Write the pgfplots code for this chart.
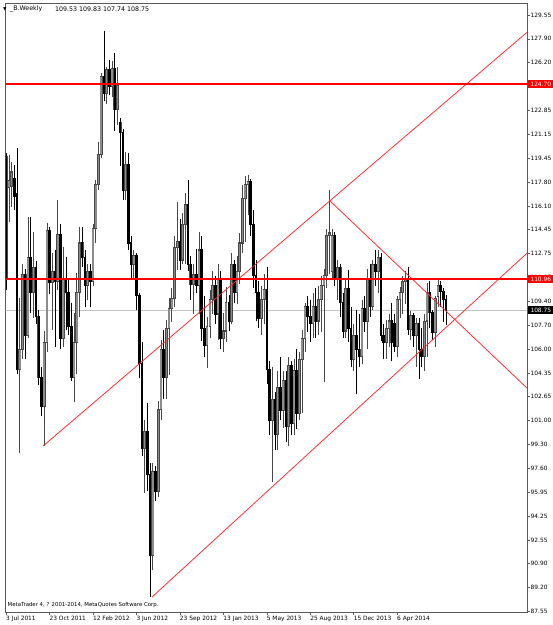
\documentclass[border=0pt]{standalone}
\usepackage{pgfplots}
\pgfplotsset{compat=1.18}
\usepackage{pgfplotstable}
\usepackage{fontspec}
\setmainfont{DejaVu Sans}
\definecolor{wickc}{RGB}{72,72,72}
\definecolor{bullc}{RGB}{140,140,140}
\definecolor{mtred}{RGB}{255,0,0}
\definecolor{bidgray}{RGB}{195,195,195}
\definecolor{framec}{RGB}{90,90,90}
\newcommand{\tf}{\fontsize{5.9}{6.5}\selectfont}

\pgfplotstableread{
i o h l c
0 119.6 119.8 110.2 111.0
1 117.4 119.7 115.0 117.9
2 117.5 119.2 116.0 118.5
3 118.0 119.0 115.8 116.8
4 117.0 120.2 104.3 104.6
5 104.6 109.6 98.7 106.0
6 106.0 112.0 105.3 111.3
7 111.3 111.7 105.3 107.0
8 107.0 115.3 106.8 112.5
9 112.5 115.3 108.6 110.0
10 110.0 114.3 108.2 111.8
11 111.8 112.2 107.8 108.3
12 108.3 108.8 103.5 104.0
13 104.0 104.8 101.3 102.0
14 102.0 107.3 99.2 106.5
15 106.5 114.9 105.8 114.4
16 114.4 114.6 109.9 110.7
17 110.7 112.8 107.4 111.5
18 111.5 113.0 106.2 110.8
19 110.8 116.5 110.2 114.1
20 114.1 114.8 106.0 106.8
21 106.8 113.2 106.2 111.0
22 111.0 112.5 107.4 110.0
23 110.0 111.0 107.0 107.6
24 107.6 109.3 103.8 104.0
25 104.0 108.6 102.3 106.5
26 106.5 111.4 104.3 110.0
27 110.0 114.6 108.3 113.5
28 113.5 114.6 111.8 112.5
29 112.5 113.0 109.0 110.5
30 110.5 112.0 109.5 111.5
31 111.5 112.0 109.0 110.8
32 110.8 114.8 110.5 114.5
33 114.5 117.9 113.5 117.6
34 117.6 120.6 117.2 119.7
35 119.7 125.5 119.5 125.2
36 125.2 128.4 123.5 124.0
37 124.0 125.9 123.3 125.7
38 125.7 126.4 123.9 124.5
39 124.5 126.3 123.8 125.8
40 125.8 126.9 121.4 122.9
41 122.9 125.9 121.8 124.6
42 122.0 122.3 118.9 121.3
43 121.3 121.5 116.5 117.2
44 117.2 119.9 116.5 119.0
45 119.0 119.8 113.0 113.5
46 113.5 114.0 111.0 112.0
47 112.0 113.0 110.9 112.6
48 112.6 112.8 108.8 109.8
49 109.8 110.0 104.0 105.0
50 105.0 106.5 98.5 99.0
51 99.0 101.0 95.9 100.2
52 100.2 102.2 96.0 97.2
53 97.2 98.0 88.6 91.5
54 91.5 98.0 90.5 97.4
55 97.4 97.8 95.3 96.0
56 96.0 102.4 95.6 101.8
57 101.8 106.7 101.0 106.0
58 106.0 107.4 102.5 104.0
59 104.0 108.1 102.5 107.5
60 107.5 109.6 104.2 108.9
61 108.9 110.3 107.9 109.6
62 109.6 114.0 109.0 113.2
63 113.2 116.4 111.6 113.6
64 113.6 115.2 111.6 112.3
65 112.3 115.6 112.0 114.8
66 114.8 117.0 112.0 116.2
67 116.2 117.9 111.5 112.0
68 112.0 112.6 109.5 110.6
69 110.6 112.0 108.5 111.3
70 111.3 113.1 110.0 110.5
71 110.5 114.3 108.5 113.0
72 113.0 114.0 106.6 107.5
73 107.5 109.8 105.5 106.3
74 106.3 108.3 104.7 107.6
75 107.6 110.2 106.8 109.5
76 109.5 111.5 108.5 110.5
77 110.5 111.2 107.8 108.5
78 108.5 112.0 106.7 111.0
79 111.0 111.5 106.0 106.8
80 106.8 108.6 105.8 107.3
81 107.3 110.4 106.5 109.3
82 109.3 109.8 107.3 108.0
83 108.0 112.8 107.8 112.0
84 112.0 112.3 109.3 110.0
85 110.0 112.6 109.2 111.5
86 111.5 114.2 110.6 113.5
87 113.5 117.6 112.8 116.6
88 116.6 118.2 113.6 117.6
89 117.6 118.3 115.5 117.8
90 117.8 118.0 114.0 114.8
91 114.8 115.8 110.3 111.2
92 111.2 112.3 108.0 110.0
93 110.0 110.8 107.5 108.2
94 108.2 110.5 107.0 109.5
95 109.5 111.3 107.8 110.2
96 110.2 111.8 103.6 104.6
97 104.6 105.2 100.0 101.0
98 101.0 104.8 96.7 102.5
99 102.5 103.0 98.9 100.0
100 100.0 104.5 98.9 103.3
101 103.3 105.5 101.0 101.7
102 101.7 104.5 100.5 103.8
103 103.8 104.5 99.5 100.6
104 100.6 105.5 99.2 104.9
105 104.9 105.2 100.0 100.8
106 100.8 105.3 100.0 104.5
107 104.5 106.0 100.4 101.5
108 101.5 105.8 101.0 105.3
109 105.3 107.4 101.5 106.8
110 106.8 109.3 105.8 109.0
111 109.0 109.8 107.2 108.3
112 108.3 109.5 106.5 107.8
113 107.8 110.0 106.8 109.0
114 109.0 110.3 106.8 108.0
115 108.0 110.5 107.0 109.5
116 109.5 111.2 107.2 110.5
117 110.5 111.7 103.7 111.2
118 111.2 114.5 110.3 114.0
119 114.0 117.2 111.3 114.2
120 111.5 114.5 111.0 114.0
121 114.0 114.3 110.5 111.0
122 111.0 112.3 109.5 111.8
123 111.8 112.0 108.3 109.3
124 109.3 110.0 106.8 107.3
125 107.3 111.0 106.8 110.3
126 110.3 111.6 106.5 107.5
127 107.5 109.0 104.8 105.3
128 105.3 107.8 104.5 107.0
129 107.0 108.8 102.9 106.0
130 106.0 108.5 104.8 105.5
131 105.5 109.5 105.0 108.9
132 108.9 109.8 107.2 108.0
133 108.0 111.7 106.0 111.0
134 111.0 112.0 108.3 109.0
135 109.0 112.3 108.8 112.0
136 112.0 113.0 110.5 111.5
137 111.5 113.0 110.0 112.5
138 112.5 112.8 106.6 107.0
139 107.0 107.8 105.3 106.5
140 106.5 108.1 105.3 107.5
141 107.5 108.5 106.2 108.0
142 108.0 109.3 105.2 106.5
143 107.8 108.5 105.8 106.2
144 106.2 109.8 105.5 109.5
145 109.5 110.4 108.2 110.0
146 110.0 111.2 108.5 110.8
147 110.8 111.5 109.2 111.0
148 111.0 111.8 107.0 107.4
149 107.4 108.7 106.7 108.4
150 108.4 108.6 106.2 107.0
151 107.0 108.2 104.8 107.8
152 107.8 108.2 103.9 106.0
153 106.0 107.5 104.8 105.5
154 105.5 108.5 104.5 108.0
155 108.0 110.7 105.5 110.0
156 110.0 110.8 107.5 108.6
157 108.6 108.8 106.7 107.2
158 107.2 109.8 106.2 109.6
159 109.7 111.0 109.0 110.5
160 110.5 110.8 109.0 110.1
161 110.1 110.3 107.9 109.5
162 109.53 109.83 107.74 108.75
}\bars

\begin{document}
\begin{tikzpicture}
\useasboundingbox (0bp,0bp) rectangle (553bp,625bp);
\begin{axis}[
  at={(5.5bp,13bp)}, anchor=south west,
  scale only axis, width=521.5bp, height=609bp,
  xmin=-0.26, xmax=191.8, ymin=87.515, ymax=130.395,
  axis line style={framec, line width=0.8bp},
  tick align=outside, major tick length=2.5bp, minor tick num=0,
  tick style={framec, line width=0.6bp},
  xtick pos=left, ytick pos=right, yticklabel pos=right,
  xtick={0,16,32,48,64,80,96,112,128,144},
  xticklabels={3 Jul 2011, 23 Oct 2011, 12 Feb 2012, 3 Jun 2012, 23 Sep 2012, 13 Jan 2013, 5 May 2013, 25 Aug 2013, 15 Dec 2013, 6 Apr 2014},
  xticklabel style={font=\tf, anchor=north west, xshift=-1.2bp, inner sep=1bp},
  ytick={87.55,89.23,90.91,92.59,94.27,95.95,97.63,99.31,100.99,102.67,104.35,106.03,107.71,109.39,111.07,112.75,114.43,116.11,117.79,119.47,121.15,122.83,124.51,126.19,127.87,129.55},
  yticklabels={87.55,89.20,90.90,92.55,94.25,95.95,97.60,99.30,101.00,102.65,104.35,106.00,107.70,109.40,111.05,112.75,114.45,116.10,117.80,119.45,121.15,122.85,124.55,126.20,127.90,129.55},
  yticklabel style={font=\tf, anchor=west, inner sep=1bp},
  cycle list={{draw=none}},
]
% bid line
\addplot[draw=bidgray, line width=0.8bp, mark=none, forget plot] coordinates {(-5,108.75) (100,108.75) (200,108.75)};
% wicks: dark grey for all, black over the bear bars
\addplot[draw=none, mark=none, forget plot,
  error bars/.cd, y dir=both, y explicit,
  error bar style={draw=wickc, line width=0.7bp}, error mark=none]
  table[x=i, y expr={(\thisrow{h}+\thisrow{l})/2}, y error expr={(\thisrow{h}-\thisrow{l})/2}] {\bars};
\addplot[draw=none, mark=none, forget plot,
  error bars/.cd, y dir=both, y explicit,
  error bar style={draw=black, line width=0.7bp}, error mark=none]
  table[x=i, y expr={(\thisrow{h}+\thisrow{l})/2}, y error expr={(\thisrow{o}>\thisrow{c})*(\thisrow{h}-\thisrow{l})/2}] {\bars};
% bodies: dark outline, grey inside (bull), black over the bear bars
\addplot[draw=none, mark=none, forget plot,
  error bars/.cd, y dir=both, y explicit,
  error bar style={draw=wickc, line width=2.7bp}, error mark=none]
  table[x=i, y expr={(\thisrow{o}+\thisrow{c})/2}, y error expr={abs(\thisrow{c}-\thisrow{o})/2+0.04}] {\bars};
\addplot[draw=none, mark=none, forget plot,
  error bars/.cd, y dir=both, y explicit,
  error bar style={draw=bullc, line width=1.5bp}, error mark=none]
  table[x=i, y expr={(\thisrow{o}+\thisrow{c})/2}, y error expr={max(abs(\thisrow{c}-\thisrow{o})/2-0.04,0)}] {\bars};
\addplot[draw=none, mark=none, forget plot,
  error bars/.cd, y dir=both, y explicit,
  error bar style={draw=black, line width=2.5bp}, error mark=none]
  table[x=i, y expr={(\thisrow{o}+\thisrow{c})/2}, y error expr={(\thisrow{o}>\thisrow{c})*((\thisrow{o}-\thisrow{c})/2+0.04)}] {\bars};
% trend lines
\addplot[draw=mtred!85, line width=0.75bp, mark=none, forget plot] coordinates {(13.55,99.20) (191.8,128.33)};
\addplot[draw=mtred!85, line width=0.75bp, mark=none, forget plot] coordinates {(118.9,116.52) (191.8,103.28)};
\addplot[draw=mtred!85, line width=0.75bp, mark=none, forget plot] coordinates {(53.7,88.57) (191.8,112.78)};
% horizontal levels
\addplot[color=mtred, line width=1.3bp, mark=none, forget plot] coordinates {(-5,110.96) (100,110.96) (200,110.96)};
\addplot[color=mtred, line width=1.3bp, mark=none, forget plot] coordinates {(-5,124.70) (100,124.70) (200,124.70)};
\coordinate (r1) at (axis cs:191.8,124.70);
\coordinate (r2) at (axis cs:191.8,110.96);
\coordinate (r3) at (axis cs:191.8,108.75);
\end{axis}
\node[fill=mtred, text=white, anchor=west, inner sep=0.5bp, minimum height=8bp, minimum width=26bp, font=\tf] at ([xshift=0.6bp]r1) {124.70};
\node[fill=mtred, text=white, anchor=west, inner sep=0.5bp, minimum height=8bp, minimum width=26bp, font=\tf] at ([xshift=0.6bp]r2) {110.96};
\node[fill=black, text=white, anchor=west, inner sep=0.5bp, minimum height=8bp, minimum width=26bp, font=\tf] at ([xshift=0.6bp]r3) {108.75};
\node[font=\fontsize{4.5}{5}\selectfont, inner sep=0pt] at (4.8bp,616bp) {▼};
\node[font=\fontsize{6.3}{7}\selectfont, anchor=west, inner sep=0pt] at (10bp,616bp) {\_B.Weekly};
\node[font=\fontsize{6.3}{7}\selectfont, anchor=west, inner sep=0pt] at (55bp,616bp) {109.53 109.83 107.74 108.75};
\node[font=\fontsize{5.4}{6}\selectfont, anchor=west, inner sep=0pt] at (7.5bp,19.5bp) {MetaTrader 4, ? 2001-2014, MetaQuotes Software Corp.};
\end{tikzpicture}
\end{document}
